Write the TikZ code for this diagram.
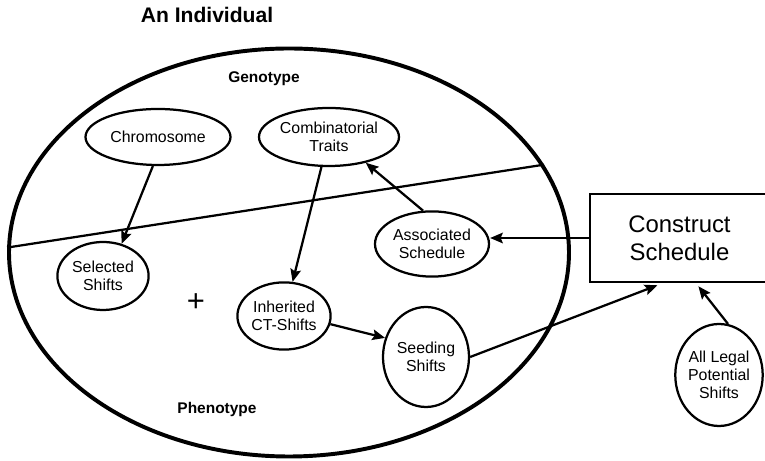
\documentclass[tikz,border=0pt]{standalone}
\usepackage{fontspec}
\setmainfont{Liberation Sans}
\usetikzlibrary{arrows.meta,positioning,shapes.geometric}
\tikzset{
  bubble/.style={ellipse,draw,line width=1.6pt,inner sep=0pt,align=center,
    font=\fontsize{11.3}{13}\selectfont},
  schedbox/.style={rectangle,draw,line width=1.6pt,align=center,
    minimum width=4.475cm,minimum height=2.2cm,font=\fontsize{17}{20}\selectfont},
  zonelabel/.style={font=\fontsize{11}{13}\selectfont\bfseries},
  arrow/.style={-{Stealth[length=9pt,width=7.5pt,inset=1.5pt]},line width=1.6pt}
}

\begin{document}
\begin{tikzpicture}
  \useasboundingbox (0,0) rectangle (19.125,11.525);
  \node[ellipse,draw,line width=2.8pt,minimum width=14cm,minimum height=10.2cm] (individual) at (7.225,5.2125) {};
  \node[font=\fontsize{15}{18}\selectfont\bfseries] (title) at (5.175,11.15) {An Individual};
  \node[zonelabel] (geno) at (6.6,9.55) {Genotype};
  \node[zonelabel] (pheno) at (5.425,1.275) {Phenotype};
  \draw[line width=1.6pt] (individual.179) -- (individual.19.5);
  \node[bubble, minimum width=3.625cm, minimum height=1.4cm] (chromosome) at (3.95,8.1) {Chromosome};
  \node[bubble, minimum width=3.5cm, minimum height=1.45cm] (combi) at (8.225,8.1) {Combinatorial\\Traits};
  \node[bubble, minimum width=2.28cm, minimum height=1.7cm] (selected) at (2.575,4.625) {Selected\\Shifts};
  \node[font=\fontsize{22}{26}\selectfont] (plus) at (4.9,3.95) {+};
  \node[bubble, minimum width=2.33cm, minimum height=1.68cm] (inherited) at (7.1,3.625) {Inherited\\CT-Shifts};
  \node[bubble, minimum width=2.85cm, minimum height=1.63cm] (associated) at (10.8,5.425) {Associated\\Schedule};
  \node[bubble, minimum width=2.15cm, minimum height=2.5cm] (seeding) at (10.65,2.6) {Seeding\\Shifts};
  \node[bubble, minimum width=2.15cm, minimum height=2.55cm] (alllegal) at (17.975,2.15) {All Legal\\Potential\\Shifts};
  \node[schedbox] (construct) at (16.9875,5.575) {Construct\\Schedule};
  \draw[arrow] (chromosome.260) -- (selected.60);
  \draw[arrow] (combi) -- (inherited);
  \draw[arrow] (associated.105) -- (combi.-35);
  \draw[arrow] (construct.west) -- (construct.west -| associated.east);
  \draw[arrow] (inherited.-10) -- (seeding.155);
  \draw[arrow, shorten >=1.5mm] (seeding.east) -- (construct.250);
  \draw[arrow, shorten >=1mm] (alllegal.80) -- (construct.290);
\end{tikzpicture}
\end{document}
